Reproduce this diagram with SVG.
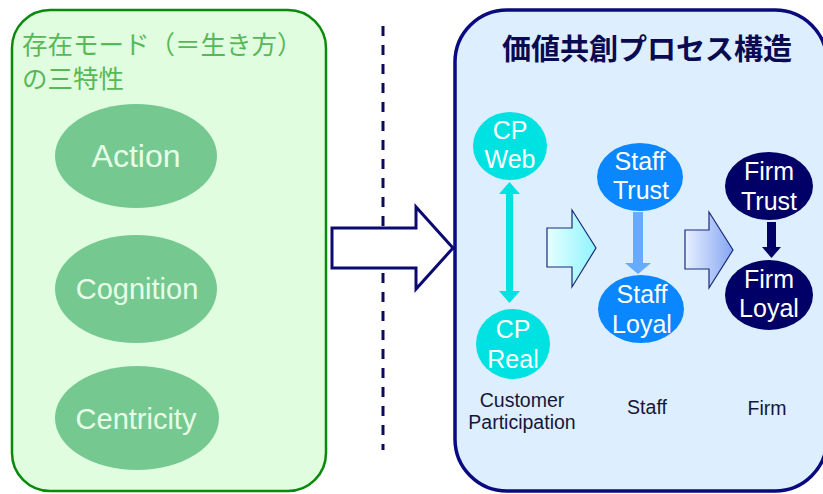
<svg xmlns="http://www.w3.org/2000/svg" width="823" height="494" viewBox="0 0 823 494">
  <defs>
    <linearGradient id="gradCyan" x1="0" y1="0" x2="1" y2="0">
      <stop offset="0" stop-color="#e6ffff"/>
      <stop offset="1" stop-color="#8ff4ff"/>
    </linearGradient>
    <linearGradient id="gradBlue" x1="0" y1="0" x2="1" y2="0">
      <stop offset="0" stop-color="#e8f0ff"/>
      <stop offset="1" stop-color="#85a6f2"/>
    </linearGradient>
    <style>
      .panelL { fill: #e0fde0; stroke: #0a8a0a; stroke-width: 2.5; }
      .panelR { fill: #ddeeff; stroke: #0a0a80; stroke-width: 3.5; }
      .mode { fill: #76c891; }
      .modeText { font-family: "Liberation Sans", Arial, sans-serif; fill: #e6ffe6; text-anchor: middle; }
      .jp { font-family: "Noto Sans CJK JP", "Noto Sans CJK SC", sans-serif; }
      .nodeText { font-family: "Liberation Sans", Arial, sans-serif; font-size: 25px; fill: #ffffff; text-anchor: middle; }
      .label { font-family: "Liberation Sans", Arial, sans-serif; font-size: 19.5px; fill: #16163a; text-anchor: middle; }
      .flow { stroke: #1a2a7a; stroke-width: 1.2; }
    </style>
  </defs>

  <rect width="823" height="494" fill="#ffffff"/>

  <!-- left panel: modes of existence -->
  <g id="panel-modes">
    <rect class="panelL" x="12" y="10" width="314" height="481" rx="38" ry="38"/>
    <text class="jp" x="22" y="54" font-size="25.5" fill="#58b858">存在モード（＝生き方）</text>
    <text class="jp" x="22" y="88" font-size="25.5" fill="#58b858">の三特性</text>
  </g>
  <g id="node-action">
    <ellipse class="mode" cx="136" cy="156" rx="81" ry="52"/>
    <text class="modeText" x="136" y="167" font-size="32">Action</text>
  </g>
  <g id="node-cognition">
    <ellipse class="mode" cx="136" cy="289" rx="81" ry="54"/>
    <text class="modeText" x="137" y="299" font-size="29">Cognition</text>
  </g>
  <g id="node-centricity">
    <ellipse class="mode" cx="137" cy="418" rx="82" ry="52"/>
    <text class="modeText" x="136" y="429" font-size="29">Centricity</text>
  </g>

  <!-- divider -->
  <line x1="383" y1="26" x2="383" y2="450" stroke="#0a0a60" stroke-width="3" stroke-dasharray="10 9"/>

  <!-- right panel: co-creation process -->
  <g id="panel-process">
    <rect class="panelR" x="455" y="10" width="372" height="481" rx="52" ry="52"/>
    <text class="jp" x="502" y="60" font-size="29" font-weight="bold" fill="#0a0a50">価値共創プロセス構造</text>
  </g>

  <!-- connectors -->
  <g id="connectors">
    <!-- hollow arrow between panels -->
    <polygon points="332,228 416,228 416,207 453,248 416,289 416,268 332,268" fill="#ffffff" stroke="#0a0a70" stroke-width="3" stroke-linejoin="miter"/>
    <!-- CP Web <-> CP Real -->
    <g fill="#00e2e2">
      <rect x="506" y="193" width="7" height="99"/>
      <polygon points="509.5,182 520,194 499,194"/>
      <polygon points="509.5,303 520,291 499,291"/>
    </g>
    <!-- Staff Trust -> Staff Loyal -->
    <g fill="#66abff">
      <rect x="633" y="212" width="10" height="52"/>
      <polygon points="625,263 651,263 638,274"/>
    </g>
    <!-- Firm Trust -> Firm Loyal -->
    <g fill="#000066">
      <rect x="767" y="222" width="9" height="26"/>
      <polygon points="762,247 781,247 771.5,258"/>
    </g>
    <!-- stage arrows -->
    <polygon class="flow" points="547,228 572,228 572,210 596,248 572,287 572,267 547,267" fill="url(#gradCyan)"/>
    <polygon class="flow" points="685,230 709,230 709,212 733,250 709,288 709,269 685,269" fill="url(#gradBlue)"/>
  </g>

  <g id="node-cp-web">
    <ellipse cx="510" cy="146" rx="37" ry="34" fill="#00e2e2"/>
    <text class="nodeText" x="510" y="139">CP</text>
    <text class="nodeText" x="510" y="168">Web</text>
  </g>
  <g id="node-cp-real">
    <ellipse cx="513" cy="344" rx="37" ry="35" fill="#00e2e2"/>
    <text class="nodeText" x="513" y="338">CP</text>
    <text class="nodeText" x="513" y="368">Real</text>
  </g>
  <g id="node-staff-trust">
    <ellipse cx="640" cy="177" rx="43" ry="34" fill="#0a86ff"/>
    <text class="nodeText" x="640" y="170">Staff</text>
    <text class="nodeText" x="641" y="199">Trust</text>
  </g>
  <g id="node-staff-loyal">
    <ellipse cx="641" cy="309" rx="43" ry="34" fill="#0a86ff"/>
    <text class="nodeText" x="642" y="303">Staff</text>
    <text class="nodeText" x="642" y="333">Loyal</text>
  </g>
  <g id="node-firm-trust">
    <ellipse cx="769" cy="186" rx="44" ry="34" fill="#000066"/>
    <text class="nodeText" x="769" y="180">Firm</text>
    <text class="nodeText" x="769" y="210">Trust</text>
  </g>
  <g id="node-firm-loyal">
    <ellipse cx="769" cy="295" rx="44" ry="35" fill="#000066"/>
    <text class="nodeText" x="769" y="288">Firm</text>
    <text class="nodeText" x="769" y="317">Loyal</text>
  </g>

  <!-- column labels -->
  <g id="labels">
    <text class="label" x="522" y="407">Customer</text>
    <text class="label" x="522" y="429">Participation</text>
    <text class="label" x="647" y="414">Staff</text>
    <text class="label" x="767" y="415">Firm</text>
  </g>
</svg>
